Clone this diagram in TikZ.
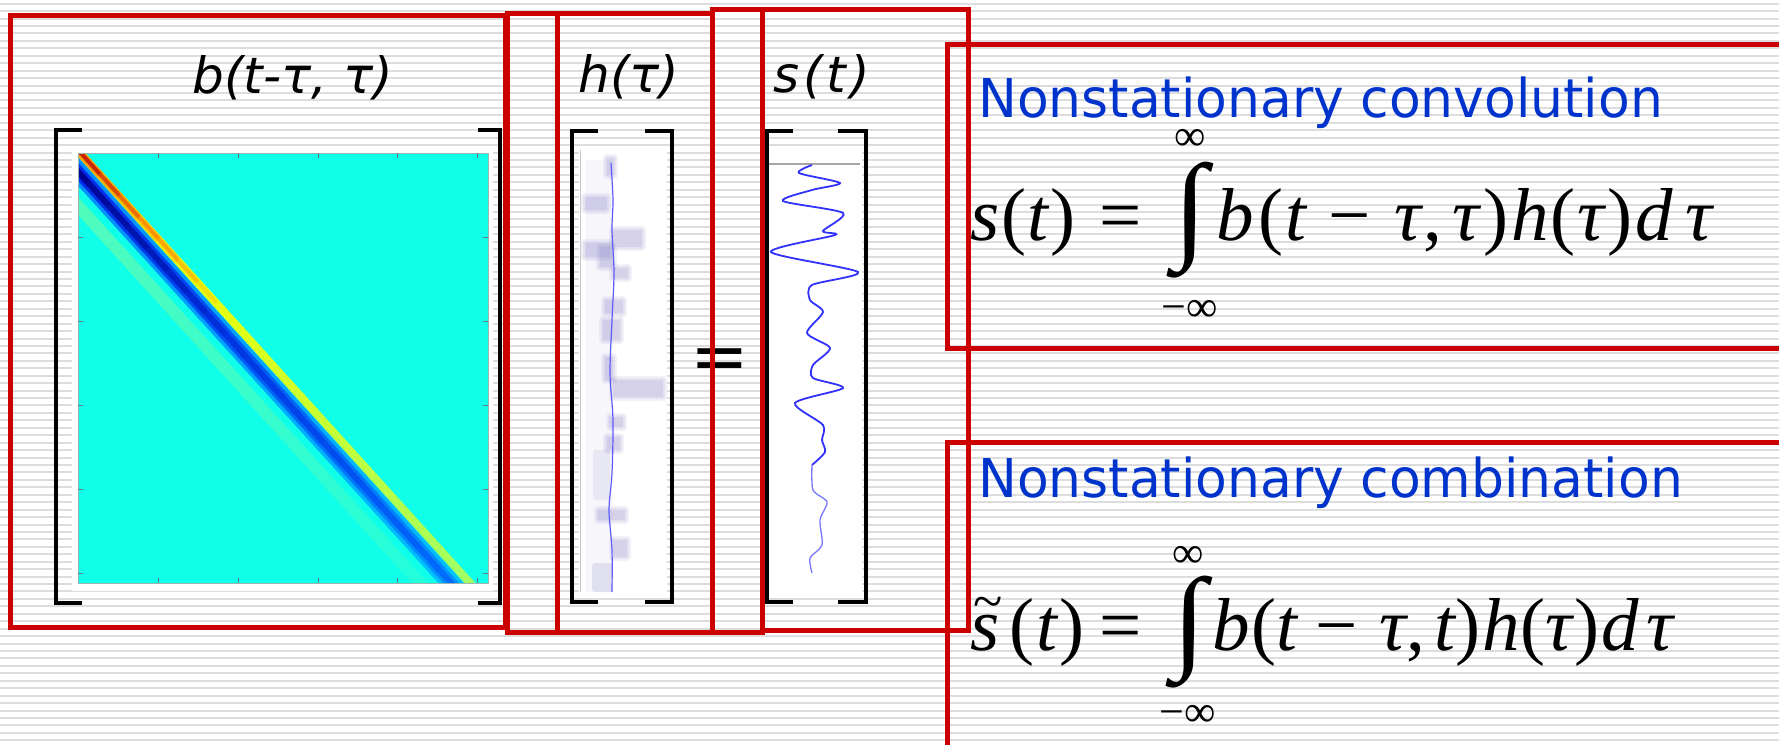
\documentclass[tikz,border=0pt]{standalone}
\usepackage{fontspec}
\newfontfamily\verdF{DejaVu Sans}
\newfontfamily\tahF[FakeStretch=0.97]{DejaVu Sans}
\newfontfamily\tmsF{Liberation Serif}
\newcommand{\mvI}[1]{{\itshape #1}}
\definecolor{stripec}{RGB}{221,221,221}
\definecolor{redc}{RGB}{204,0,0}
\definecolor{bluet}{RGB}{0,51,204}
\definecolor{cyanbg}{RGB}{16,255,232}
\definecolor{navyc}{RGB}{0,0,140}
\definecolor{bluecm}{RGB}{0,50,225}
\definecolor{bluem}{RGB}{0,40,235}
\definecolor{bluel}{RGB}{0,140,255}
\definecolor{bluelb}{RGB}{0,195,255}
\definecolor{bluemb}{RGB}{0,150,255}
\definecolor{bluecb}{RGB}{0,110,255}
\definecolor{redc2}{RGB}{190,20,0}
\definecolor{orac}{RGB}{255,150,0}
\definecolor{yelc}{RGB}{235,255,10}
\definecolor{ygrc}{RGB}{160,255,100}
\definecolor{fgrn}{RGB}{120,250,160}
\definecolor{tickc}{RGB}{90,130,130}
\definecolor{smudgec}{RGB}{150,145,205}
\definecolor{tracec}{RGB}{50,50,255}
\definecolor{tracel}{RGB}{120,120,255}
\newcommand{\segset}{\pgfmathsetmacro{\sa}{-0.05+0.05*\i}\pgfmathsetmacro{\sb}{\sa+0.052}\pgfmathsetmacro{\pp}{max(0,min(100,100*(\sa+0.025)))}}
\newcommand{\bandseg}[4]{\draw[line width=#3, #4] ({80+390*\sa+#1},{153+430*\sa+#2}) -- ({80+390*\sb+#1},{153+430*\sb+#2});}
\newcommand{\smudge}[4]{\fill[smudgec, opacity=0.12, rounded corners=4pt] (#1-4,#2-4) rectangle (#3+4,#4+4); \fill[smudgec, opacity=0.15, rounded corners=2pt] (#1-2,#2-2) rectangle (#3+2,#4+2); \fill[smudgec, opacity=0.2] (#1,#2) rectangle (#3,#4);}
\begin{document}
\begin{tikzpicture}[x=1pt,y=-1pt,
  stripe/.style={draw=stripec, line width=2pt},
  redbox/.style={draw=redc, line width=5pt},
  brk/.style={draw=black, line width=4pt, line join=miter, line cap=butt},
  tickmark/.style={draw=tickc, line width=1pt},
  titletext/.style={font=\verdF\itshape\fontsize{50}{60}\selectfont, inner sep=0pt, anchor=base},
  bluelabel/.style={text=bluet, font=\tahF\fontsize{53.5}{60}\selectfont, inner sep=0pt, anchor=base west},
  eqn/.style={font=\tmsF\fontsize{75}{80}\selectfont, inner sep=0pt},
  limtext/.style={font=\tmsF\fontsize{44}{50}\selectfont, inner sep=0pt, anchor=center},
  intsign/.style={inner sep=0pt, anchor=center, font=\tmsF}]
\useasboundingbox (0,0) rectangle (1779,744);
\fill[white] (0,0) rectangle (1779,744);
% background stripes
\foreach \k in {0,...,99}{\draw[stripe] (0,{7.44*(\k+0.5)}) -- (1779,{7.44*(\k+0.5)});}

% ---------- b matrix ----------
\fill[white] (72,146) rectangle (493,591);
\begin{scope}
\clip (78,153) rectangle (488,583);
\fill[cyanbg] (78,153) rectangle (488,583);
\foreach \i in {0,...,21}{\segset\pgfmathsetmacro{\gA}{65-50*\pp/100}\colorlet{cc}{fgrn!\gA!cyanbg}\bandseg{-27.4}{24.9}{12pt}{cc}}
\foreach \i in {0,...,21}{\segset\colorlet{cc}{bluelb!\pp!bluel}\bandseg{-10.4}{9.4}{19pt}{cc}}
\foreach \i in {0,...,21}{\segset\colorlet{cc}{bluemb!\pp!bluem}\bandseg{-10.4}{9.4}{12pt}{cc}}
\foreach \i in {0,...,21}{\segset
  \pgfmathsetmacro{\ca}{min(100,100*\pp/40)}\pgfmathsetmacro{\cb}{max(0,100*(\pp-40)/60)}
  \colorlet{ctmp}{bluecm!\ca!navyc}\colorlet{cc}{bluecb!\cb!ctmp}\bandseg{-10.4}{9.4}{6pt}{cc}}
\foreach \i in {0,...,21}{\segset
  \pgfmathsetmacro{\qa}{min(100,100*\pp/30)}\pgfmathsetmacro{\qb}{max(0,100*(\pp-30)/70)}
  \colorlet{ytmp}{yelc!\qa!orac}\colorlet{cc}{ygrc!\qb!ytmp}\bandseg{0}{0}{8pt}{cc}}
\foreach \i in {0,...,21}{\segset
  \pgfmathsetmacro{\qa}{min(100,100*\pp/30)}\pgfmathsetmacro{\qb}{max(0,100*(\pp-30)/70)}
  \colorlet{ytmp}{yelc!\qa!orac}\colorlet{ycol}{ygrc!\qb!ytmp}
  \pgfmathsetmacro{\ra}{min(100,100*\pp/18)}\pgfmathsetmacro{\rb}{max(0,min(100,100*(\pp-18)/20))}
  \colorlet{rtmp}{orac!\ra!redc2}\colorlet{cc}{ycol!\rb!rtmp}\bandseg{0.4}{-0.4}{4pt}{cc}}
\end{scope}
\draw[draw=tickc!60, line width=0.8pt] (78,153) rectangle (488,583);
\foreach \x in {158,238,318,397,477}{\draw[tickmark] (\x,583) -- (\x,578); \draw[tickmark] (\x,153) -- (\x,158);}
\foreach \y in {237,321,405,489,573}{\draw[tickmark] (78,\y) -- (83,\y); \draw[tickmark] (488,\y) -- (483,\y);}

% ---------- h image ----------
\fill[white] (579,150) rectangle (667,592);
\draw[gray!45, line width=1pt] (580,150) -- (580,592);
\fill[smudgec, opacity=0.08] (586,160) rectangle (612,592);
\smudge{607}{158}{614}{175}
\smudge{585}{197}{607}{210}
\smudge{613}{230}{642}{247}
\smudge{585}{243}{610}{257}
\smudge{600}{247}{613}{267}
\smudge{613}{268}{628}{278}
\smudge{605}{300}{623}{313}
\smudge{603}{320}{620}{340}
\smudge{605}{357}{613}{380}
\smudge{613}{380}{663}{397}
\smudge{610}{417}{623}{427}
\smudge{607}{437}{620}{450}
\fill[smudgec, opacity=0.14, rounded corners=3pt] (593,450) rectangle (610,500);
\smudge{598}{510}{625}{520}
\smudge{613}{540}{627}{557}
\fill[smudgec, opacity=0.22, rounded corners=3pt] (592,563) rectangle (613,592);
\draw[tracec!80, line width=1.2pt] plot[smooth] coordinates {(611,163) (613,200) (612,230) (614,273) (612,320) (610,373) (613,420) (612,473) (609,510) (612,550) (612,592)};

% ---------- s image ----------
\fill[white] (768,150) rectangle (862,592);
\draw[gray!70, line width=2pt] (769,164) -- (860,164);
\draw[tracec, line width=1.8pt] plot[smooth, tension=0.45] coordinates {(812,165) (799,173) (840,183) (812,190) (783,201) (843,213) (823,231) (835,235) (771,252) (858,272) (812,285) (810,300) (823,312) (807,333) (830,348) (813,365) (813,378) (843,388) (795,403) (823,425) (822,440) (825,452) (812,465)};
\draw[tracel, line width=1.3pt] plot[smooth, tension=0.45] coordinates {(812,465) (813,490) (827,502) (820,520) (822,545) (810,558) (812,573)};

% ---------- brackets ----------
\draw[brk] (82,130) -- (56,130) -- (56,603) -- (82,603);
\draw[brk] (478,130) -- (500,130) -- (500,603) -- (478,603);
\draw[brk] (598,131) -- (572,131) -- (572,602) -- (598,602);
\draw[brk] (645,131) -- (672,131) -- (672,602) -- (645,602);
\draw[brk] (793,131) -- (767,131) -- (767,602) -- (793,602);
\draw[brk] (838,131) -- (866,131) -- (866,602) -- (838,602);

% ---------- titles ----------
\node[titletext] (tb) at (292.5,93) {b(t-τ, τ)};
\node[titletext] (th) at (629,92) {h(τ)};
\node[titletext] (ts) at (821.5,92) {s\kern4pt(\kern4pt t\kern4pt)};
\node[inner sep=0pt, anchor=center, font=\verdF\fontsize{70}{80}\selectfont] (eqsign) at (720,365) {=};

% ---------- red boxes ----------
\draw[redbox] (10,15) rectangle (505,627);
\draw[redbox] (507,13) rectangle (557,632);
\draw[redbox] (557,13) rectangle (712,632);
\draw[redbox] (712,9) rectangle (762,632);
\draw[redbox] (762,9) rectangle (968,630);
\draw[redbox] (947,44) rectangle (1800,348);
\draw[redbox] (947,442) rectangle (1800,770);

% ---------- right-hand texts ----------
\node[bluelabel] (lconv) at (978,117) {Nonstationary convolution};
\node[bluelabel] (lcomb) at (978,497) {Nonstationary combination};

\node[eqn, anchor=base west] (lhsA) at (970,240) {\mvI{s}\kern2pt(\kern1pt\mvI{t}\kern2pt)};
\node[eqn, anchor=base] (eqA) at (1120.5,240) {=};
\node[intsign] (intA) at (1190,220) {\resizebox*{34pt}{116pt}{∫}};
\node[limtext] (upA) at (1190,140) {∞};
\node[limtext] (loA) at (1190,311) {−∞};
\node[eqn, anchor=base west] (rhsA) at (1216,240) {\mvI{b}\kern5pt(\kern2pt\mvI{t}\kern22pt−\kern24pt\mvI{τ}\kern2pt,\kern10pt\mvI{τ}\kern4pt)\kern3pt\mvI{h}\kern2pt(\kern2pt\mvI{τ}\kern3pt)\kern3pt\mvI{d}\kern12pt\mvI{τ}};

\node[eqn, anchor=base west] (lhsB) at (970,650) {\makebox[0pt][l]{\kern3pt\raisebox{31pt}{\fontsize{54}{54}\selectfont\textasciitilde}}\mvI{s}\kern10pt(\kern2pt\mvI{t}\kern2pt)};
\node[eqn, anchor=base] (eqB) at (1120.5,650) {=};
\node[intsign] (intB) at (1189,632) {\resizebox*{34pt}{112pt}{∫}};
\node[limtext] (upB) at (1188,557) {∞};
\node[limtext] (loB) at (1188,716) {−∞};
\node[eqn, anchor=base west] (rhsB) at (1212,650) {\mvI{b}\kern2pt(\mvI{t}\kern18pt−\kern22pt\mvI{τ},\kern9pt\mvI{t})\kern2pt\mvI{h}\kern1pt(\mvI{τ}\kern2pt)\kern2pt\mvI{d}\kern8pt\mvI{τ}};
\end{tikzpicture}
\end{document}
